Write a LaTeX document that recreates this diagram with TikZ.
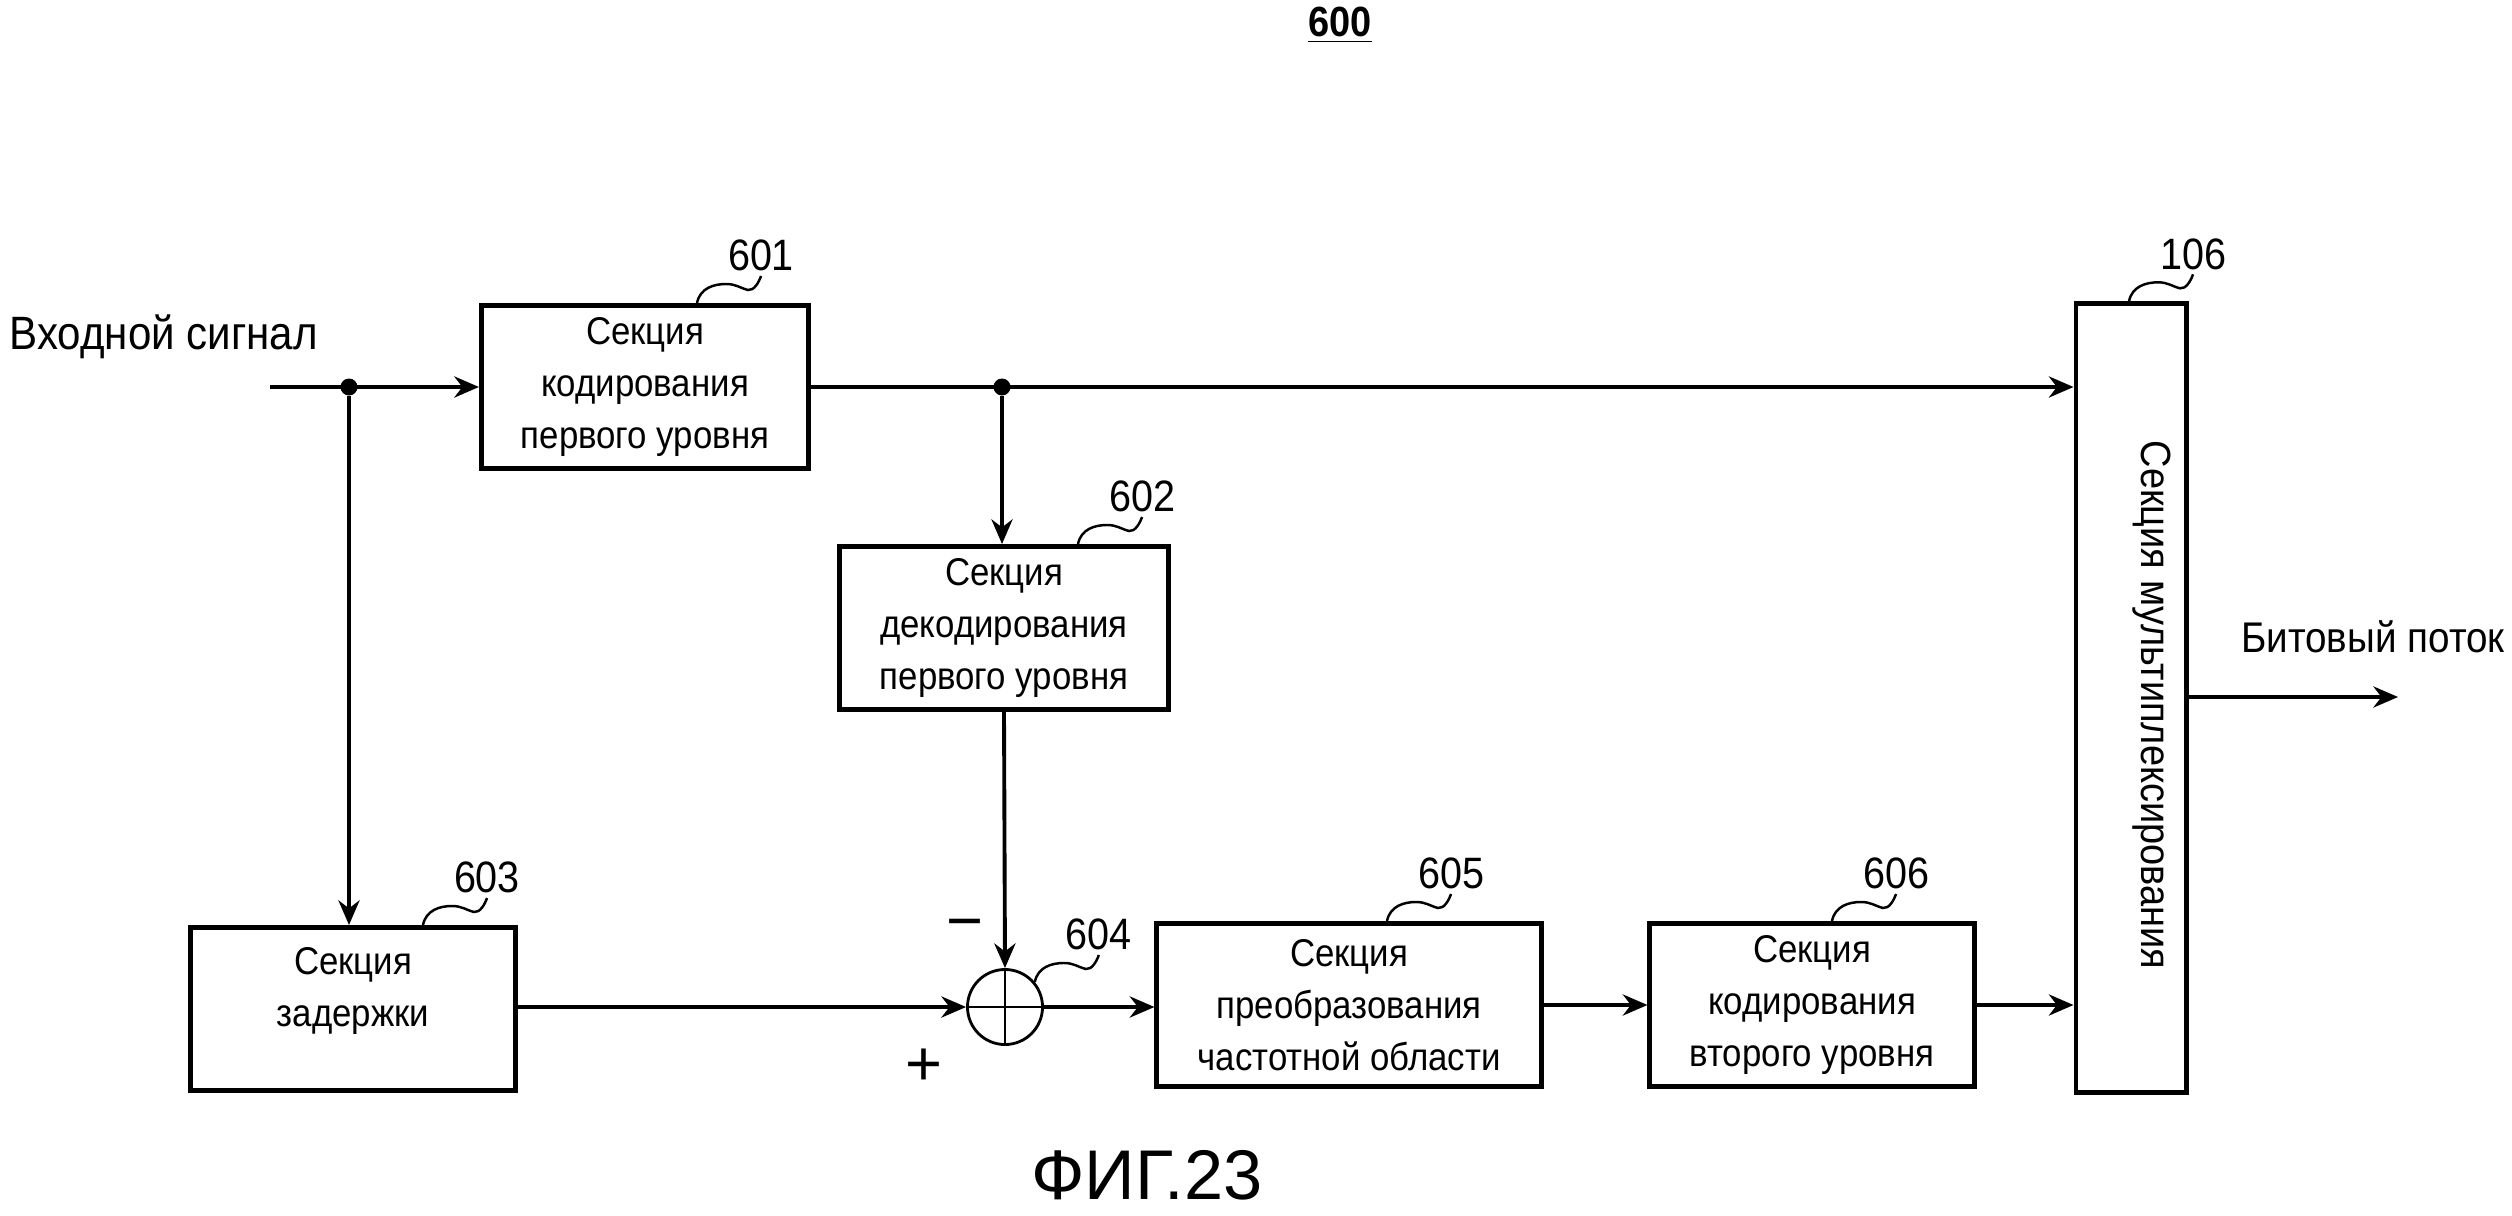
\documentclass[tikz,border=0pt]{standalone}
\usepackage{fontspec}
\setmainfont{Liberation Sans}[FakeStretch=0.9]
\newfontfamily\figfont{Liberation Sans}

\usetikzlibrary{arrows.meta,calc}

\begin{document}
\begin{tikzpicture}[x=0.01cm,y=-0.01cm,
        blk/.style={draw,line width=1.4pt,minimum width=#1,minimum height=1.63cm,
            inner sep=0pt,align=center,font=\fontsize{11}{14.8}\selectfont},
        txt/.style={align=center,inner sep=0pt,font=\fontsize{11}{14.8}\selectfont},
        conn/.style={line width=1.1pt,-{Stealth[length=7pt,width=6pt]}},
        lead/.style={line width=0.7pt},
        num/.style={above=1pt,inner sep=0pt,font=\fontsize{12.5}{14}\selectfont},
        dot/.style={circle,fill,inner sep=0pt,minimum size=0.17cm}]
    \useasboundingbox (0,0) rectangle (2512,1215);

    \node[font=\fontsize{12}{14}\selectfont] (t600) at (1340,25) {\underline{\textbf{600}}};

    \node[blk=3.27cm] (b601) at (645,387) {Секция\\кодирования\\первого уровня};
    \node[blk=3.28cm] (b602) at (1004,628) {Секция\\декодирования\\первого уровня};
    \node[blk=3.25cm] (b603) at (353,1009) {};
    \node[txt] (t603) at (353,991) {Секция\\задержки};
    \node[circle,draw,line width=0.8pt,minimum size=0.75cm,inner sep=0pt] (sum) at (1005,1007) {};
    \node[blk=3.84cm] (b605) at (1349,1005) {Секция\\преобразования\\частотной области};
    \node[blk=3.24cm] (b606) at (1812,1005) {Секция\\кодирования\\второго уровня};
    \node[draw,line width=1.4pt,minimum width=1.1cm,minimum height=7.88cm,inner sep=0pt] (mux) at (2131,698) {};
    \node[rotate=-90,inner sep=0pt,font=\fontsize{12}{14}\selectfont] (tmux) at (2152,705) {Секция мультиплексирования};

    \node[anchor=west,inner sep=0pt,font=\fontsize{13.3}{15}\selectfont] (tin) at (9,337) {Входной сигнал};
    \node[inner sep=0pt,font=\fontsize{12.2}{14}\selectfont] (tout) at (2373,637) {Битовый поток};
    \node[inner sep=0pt,font=\figfont\fontsize{18}{20}\selectfont] (tminus) at (965,931) {−};
    \node[inner sep=0pt,font=\figfont\fontsize{18}{20}\selectfont] (tplus) at (924,1067) {+};
    \node[inner sep=0pt,font=\figfont\fontsize{20}{22}\selectfont] (tfig) at (1147,1175) {ФИГ.23};

    \coordinate (in) at (270,387);
    \coordinate (out) at (2398,697);
    \node[dot] (j1) at (349,387) {};
    \node[dot] (j2) at (1002,387) {};

    \draw[conn] (in) -- (b601.west);
    \draw[conn] (b601.east) -- (b601.east -| mux.west);
    \draw[conn] (j2) -- (j2 |- b602.north);
    \draw[conn] (b602.south) -- (sum.north);
    \draw[conn] (j1) -- (j1 |- b603.north);
    \draw[conn] (sum.west -| b603.east) -- (sum.west);
    \draw[conn] (sum.east) -- (sum.east -| b605.west);
    \draw[conn] (b605.east) -- (b606.west);
    \draw[conn] (b606.east) -- (b606.east -| mux.west);
    \draw[conn] (mux.east |- out) -- (out);
    \draw[line width=0.8pt] (sum.north) -- (sum.south) (sum.west) -- (sum.east);

    % reference numerals
    \draw[lead] ($(b601.north)+(52,0)$) .. controls +(3,-15) and +(-12,0) .. ++(29,-19)
        .. controls +(10,0) and +(-8,-2) .. ++(22,6) .. controls +(6,1) and +(-2,6) .. ++(13,-14) node[num] {601};
    \draw[lead] ($(b602.north)+(74,0)$) .. controls +(3,-15) and +(-12,0) .. ++(29,-19)
        .. controls +(10,0) and +(-8,-2) .. ++(22,6) .. controls +(6,1) and +(-2,6) .. ++(13,-14) node[num] {602};
    \draw[lead] ($(b603.north)+(70,0)$) .. controls +(3,-15) and +(-12,0) .. ++(29,-19)
        .. controls +(10,0) and +(-8,-2) .. ++(22,6) .. controls +(6,1) and +(-2,6) .. ++(13,-14) node[num] {603};
    \draw[lead] (sum.40) .. controls +(3,-15) and +(-12,0) .. ++(29,-19)
        .. controls +(10,0) and +(-8,-2) .. ++(22,6) .. controls +(6,1) and +(-2,6) .. ++(13,-14) node[num] {604};
    \draw[lead] ($(b605.north)+(38,0)$) .. controls +(3,-15) and +(-12,0) .. ++(29,-19)
        .. controls +(10,0) and +(-8,-2) .. ++(22,6) .. controls +(6,1) and +(-2,6) .. ++(13,-14) node[num] {605};
    \draw[lead] ($(b606.north)+(20,0)$) .. controls +(3,-15) and +(-12,0) .. ++(29,-19)
        .. controls +(10,0) and +(-8,-2) .. ++(22,6) .. controls +(6,1) and +(-2,6) .. ++(13,-14) node[num] {606};
    \draw[lead] ($(mux.north)+(-2,0)$) .. controls +(3,-15) and +(-12,0) .. ++(29,-19)
        .. controls +(10,0) and +(-8,-2) .. ++(22,6) .. controls +(6,1) and +(-2,6) .. ++(13,-14) node[num] {106};
\end{tikzpicture}
\end{document}
